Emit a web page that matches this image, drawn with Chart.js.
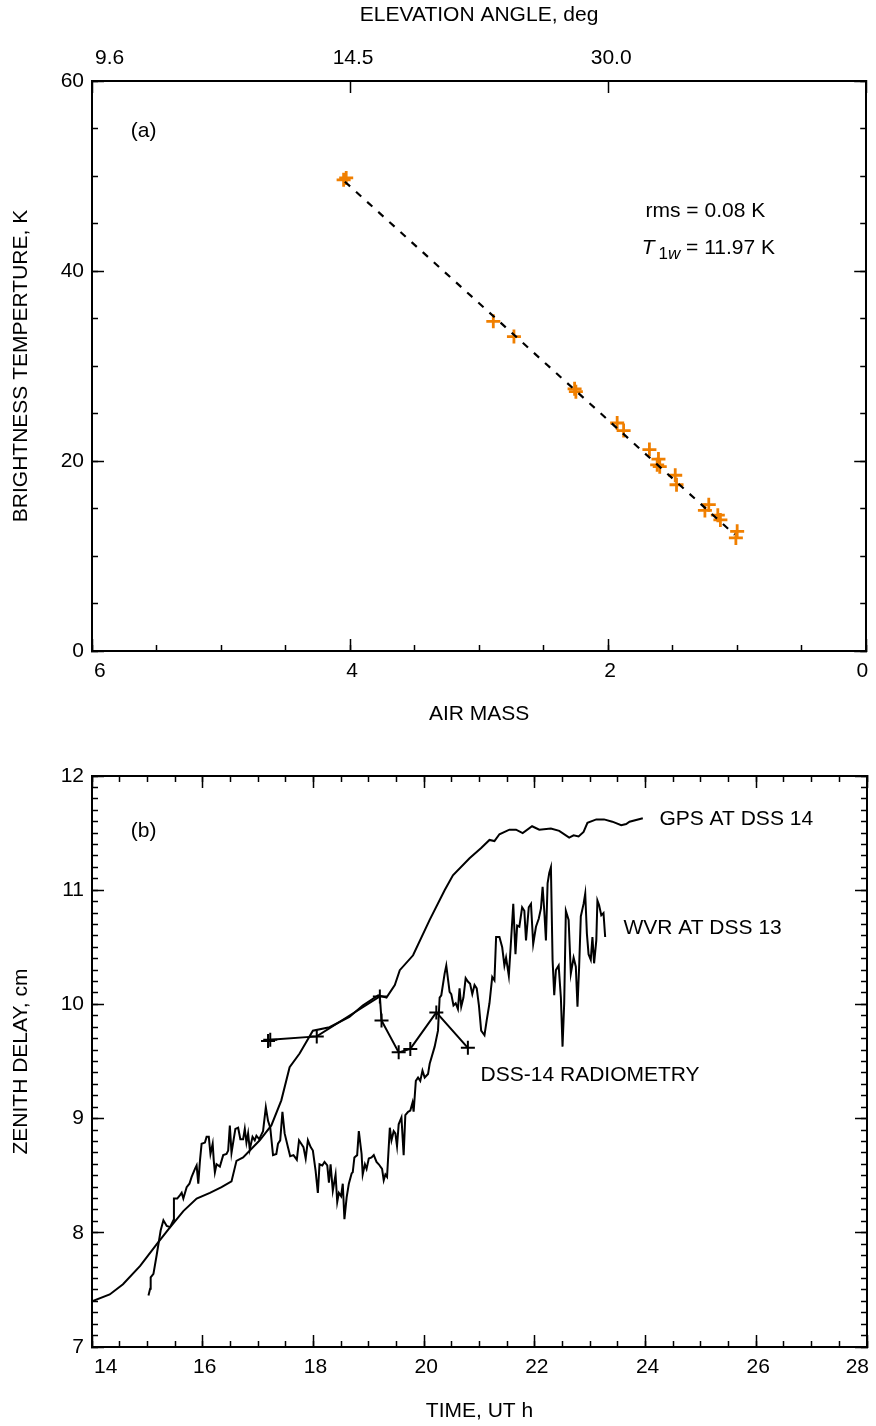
<!DOCTYPE html>
<html>
<head>
<meta charset="utf-8">
<script src="https://cdn.jsdelivr.net/npm/chart.js@4.4.0/dist/chart.umd.min.js"></script>
<style>
  body { margin: 0; background: #fff; }
  #wrap { position: relative; width: 876px; height: 1426px; }
  canvas { position: absolute; left: 0; }
</style>
</head>
<body>
<div id="wrap">
  <canvas id="airMassChart" width="876" height="735" style="top:0"></canvas>
  <canvas id="delayChart" width="876" height="691" style="top:735px"></canvas>
</div>
<script>
// panel (a): brightness temperature vs air mass
const airMass = [4.05, 4.03, 2.89, 2.73, 2.26, 2.25, 1.93, 1.88, 1.68, 1.61,
                 1.62, 1.60, 1.48, 1.47, 1.22, 1.25, 1.15, 1.13, 1.00, 1.01];
const brightnessTemp = [49.6, 49.8, 34.7, 33.1, 27.6, 27.3, 24.0, 23.2, 21.2, 20.2,
                        19.6, 19.4, 18.5, 17.5, 15.4, 14.8, 14.3, 13.8, 12.6, 11.9];
const fitAirMass = [4.04, 1.02];
const fitTemp = [49.4, 12.25];
const airMassTicks = [0, 2, 4, 6];
// top axis: elevation angle at given air mass (0 = right frame, no label)
const elevAirMass = [0, 2, 4, 6];
const elevLabels = ['', '30.0', '14.5', '9.6'];

// panel (b): zenith delay vs time
const gpsTime = [14.00, 14.32, 14.56, 14.87, 15.17, 15.38, 15.65, 15.89, 16.13, 16.34,
                 16.52, 16.61, 16.73, 17.03, 17.24, 17.42, 17.57, 17.75, 17.99, 18.29,
                 18.65, 18.89, 19.17, 19.32, 19.47, 19.56, 19.80, 20.10, 20.37, 20.52,
                 20.82, 21.03, 21.18, 21.27, 21.36, 21.54, 21.66, 21.78, 21.95, 22.08,
                 22.29, 22.44, 22.62, 22.70, 22.79, 22.88, 22.95, 23.11, 23.25, 23.40,
                 23.56, 23.65, 23.71, 23.95];
const gpsDelay = [7.40, 7.46, 7.55, 7.71, 7.90, 8.03, 8.19, 8.30, 8.35, 8.40,
                  8.45, 8.63, 8.66, 8.81, 8.94, 9.16, 9.45, 9.57, 9.77, 9.80,
                  9.89, 9.99, 10.08, 10.06, 10.17, 10.30, 10.43, 10.74, 11.00, 11.13,
                  11.28, 11.37, 11.44, 11.43, 11.49, 11.53, 11.53, 11.50, 11.56, 11.53,
                  11.54, 11.52, 11.46, 11.48, 11.47, 11.51, 11.59, 11.62, 11.62, 11.60,
                  11.57, 11.58, 11.60, 11.63];

const wvrTime = [15.02, 15.05, 15.06, 15.11, 15.17, 15.24, 15.29, 15.35, 15.41, 15.47,
                 15.48, 15.54, 15.59, 15.62, 15.65, 15.71, 15.76, 15.80, 15.86, 15.89,
                 15.92, 15.95, 15.98, 16.04, 16.07, 16.11, 16.14, 16.18, 16.20, 16.22,
                 16.25, 16.31, 16.37, 16.43, 16.46, 16.49, 16.52, 16.56, 16.59, 16.64,
                 16.68, 16.73, 16.76, 16.79, 16.82, 16.85, 16.90, 16.94, 16.97, 17.02,
                 17.04, 17.09, 17.14, 17.18, 17.22, 17.27, 17.33, 17.36, 17.40, 17.44,
                 17.48, 17.54, 17.58, 17.64, 17.70, 17.74, 17.78, 17.82, 17.86, 17.90,
                 17.95, 17.99, 18.04, 18.08, 18.11, 18.16, 18.20, 18.25, 18.28, 18.31,
                 18.35, 18.40, 18.43, 18.46, 18.50, 18.53, 18.56, 18.60, 18.64, 18.69,
                 18.71, 18.74, 18.79, 18.82, 18.87, 18.89, 18.93, 18.96, 19.00, 19.05,
                 19.09, 19.14, 19.18, 19.24, 19.27, 19.30, 19.33, 19.38, 19.41, 19.45,
                 19.48, 19.51, 19.54, 19.59, 19.63, 19.66, 19.71, 19.75, 19.79, 19.81,
                 19.85, 19.89, 19.93, 19.97, 20.01, 20.07, 20.10, 20.19, 20.25, 20.28,
                 20.31, 20.37, 20.40, 20.46, 20.49, 20.53, 20.57, 20.61, 20.64, 20.67,
                 20.71, 20.75, 20.79, 20.83, 20.87, 20.91, 20.95, 20.99, 21.03, 21.09,
                 21.13, 21.18, 21.23, 21.27, 21.30, 21.36, 21.41, 21.45, 21.48, 21.53,
                 21.57, 21.61, 21.65, 21.68, 21.72, 21.77, 21.81, 21.84, 21.89, 21.93,
                 21.97, 22.02, 22.07, 22.11, 22.14, 22.17, 22.20, 22.23, 22.26, 22.29,
                 22.32, 22.35, 22.38, 22.43, 22.47, 22.50, 22.53, 22.56, 22.61, 22.65,
                 22.70, 22.74, 22.77, 22.80, 22.83, 22.88, 22.91, 22.94, 22.97, 23.01,
                 23.04, 23.07, 23.11, 23.13, 23.16, 23.20, 23.24, 23.27];
const wvrDelay = [7.45, 7.51, 7.61, 7.64, 7.81, 8.02, 8.11, 8.06, 8.05, 8.11,
                  8.30, 8.30, 8.33, 8.35, 8.30, 8.40, 8.43, 8.49, 8.56, 8.59,
                  8.43, 8.63, 8.78, 8.79, 8.84, 8.84, 8.69, 8.78, 8.63, 8.53,
                  8.60, 8.58, 8.68, 8.69, 8.72, 8.94, 8.70, 8.82, 8.91, 8.92,
                  8.82, 8.82, 8.91, 8.79, 8.87, 8.73, 8.84, 8.81, 8.85, 8.82,
                  8.84, 8.89, 9.10, 8.98, 8.92, 8.68, 8.69, 8.78, 8.81, 9.06,
                  8.87, 8.75, 8.67, 8.68, 8.64, 8.81, 8.78, 8.75, 8.65, 8.81,
                  8.75, 8.72, 8.54, 8.35, 8.60, 8.59, 8.62, 8.59, 8.44, 8.60,
                  8.37, 8.51, 8.27, 8.35, 8.32, 8.43, 8.12, 8.31, 8.43, 8.52,
                  8.53, 8.66, 8.68, 8.89, 8.69, 8.51, 8.60, 8.56, 8.65, 8.66,
                  8.68, 8.62, 8.60, 8.56, 8.46, 8.51, 8.49, 8.92, 8.81, 8.89,
                  8.87, 8.76, 8.95, 9.01, 8.68, 9.03, 9.06, 9.07, 9.14, 9.06,
                  9.33, 9.36, 9.33, 9.42, 9.36, 9.39, 9.48, 9.63, 9.77, 10.06,
                  10.08, 10.27, 10.34, 10.11, 10.09, 9.99, 10.01, 9.96, 10.14, 9.98,
                  10.06, 10.23, 10.20, 10.18, 10.09, 10.17, 10.14, 9.99, 9.77, 9.73,
                  9.86, 10.01, 10.24, 10.21, 10.59, 10.59, 10.50, 10.34, 10.41, 10.25,
                  10.56, 10.88, 10.44, 10.69, 10.68, 10.85, 10.82, 10.56, 10.85, 10.88,
                  10.53, 10.68, 10.75, 10.84, 11.03, 10.82, 10.56, 11.06, 11.15, 11.20,
                  10.39, 10.08, 10.30, 10.34, 10.06, 9.63, 10.01, 10.82, 10.74, 10.27,
                  10.41, 10.33, 9.98, 10.33, 10.77, 10.88, 10.97, 10.62, 10.44, 10.39,
                  10.59, 10.36, 10.56, 10.91, 10.87, 10.78, 10.80, 10.59];

const radTime = [17.18, 17.22, 18.06, 19.20, 19.23, 19.54, 19.75, 20.22, 20.79];
const radDelay = [9.68, 9.69, 9.72, 10.07, 9.86, 9.58, 9.61, 9.93, 9.62];

const FONT = "'Liberation Sans', Arial, Helvetica, sans-serif";
const FS = 21;
const ORANGE = '#f07f00';
Chart.defaults.font.family = FONT;
Chart.defaults.font.size = FS;
Chart.defaults.color = '#000';

function points(xs, ys) {
  return xs.map((x, i) => ({ x: x, y: ys[i] }));
}

// one axis box; ticks point into the plot (negative tick length)
function axis(c) {
  const horizontal = c.position === 'top' || c.position === 'bottom';
  const ticks = {
    display: !!c.labels, autoSkip: false, maxRotation: 0,
    padding: c.pad || 0, color: '#000', font: { size: FS },
    labelOffset: c.labelOffset || 0
  };
  if (horizontal && c.labels) ticks.align = 'inner';
  if (c.step) ticks.stepSize = c.step;
  if (c.callback) ticks.callback = c.callback;
  const a = {
    type: 'linear',
    position: c.position,
    min: c.min, max: c.max,
    reverse: !!c.reverse,
    weight: c.weight || 0,
    border: { display: true, color: '#000', width: 2 },
    grid: { drawOnChartArea: false, drawTicks: true, tickLength: -c.tick, tickWidth: 1.5, tickColor: '#000' },
    ticks: ticks,
    title: c.title
      ? { display: true, text: c.title, color: '#000', font: { size: FS }, padding: c.titlePad }
      : { display: false },
    afterFit: function (s) {
      if (horizontal) s.height = c.size; else s.width = c.size;
      s.paddingLeft = s.paddingRight = s.paddingTop = s.paddingBottom = 0;
    }
  };
  if (c.tickValues) {
    a.afterBuildTicks = function (s) { s.ticks = c.tickValues.map(v => ({ value: v })); };
  }
  return a;
}

// text labels inside the plots, anchored in data units
function notesPlugin(items) {
  return {
    id: 'notes',
    afterDatasetsDraw(chart) {
      const ctx = chart.ctx;
      const sx = chart.scales.x, sy = chart.scales.y;
      ctx.save();
      ctx.fillStyle = '#000';
      ctx.textAlign = 'left';
      ctx.textBaseline = 'middle';
      items.forEach(n => {
        let x = sx.getPixelForValue(n.x);
        const y = sy.getPixelForValue(n.y);
        const parts = n.parts || [{ t: n.text }];
        parts.forEach(p => {
          ctx.font = (p.italic ? 'italic ' : '') + (p.size || FS) + 'px ' + FONT;
          ctx.fillText(p.t, x, y + (p.dy || 0));
          x += ctx.measureText(p.t).width + (p.gap || 0);
        });
      });
      ctx.restore();
    }
  };
}

const notesA = [
  { x: 5.70, y: 54.7, text: '(a)' },
  { x: 1.71, y: 46.3, text: 'rms = 0.08 K' },
  { x: 1.74, y: 42.4, parts: [
    { t: 'T', italic: true, gap: 4 },
    { t: '1', size: 17, dy: 6 },
    { t: 'w', size: 17, dy: 6, italic: true },
    { t: ' = 11.97 K' }
  ] }
];
const notesB = [
  { x: 14.70, y: 11.52, text: '(b)' },
  { x: 24.25, y: 11.62, text: 'GPS AT DSS 14' },
  { x: 23.60, y: 10.67, text: 'WVR AT DSS 13' },
  { x: 21.02, y: 9.38, text: 'DSS-14 RADIOMETRY' }
];

const chartA = new Chart(document.getElementById('airMassChart'), {
  type: 'scatter',
  data: {
    datasets: [
      {
        label: 'fit', data: points(fitAirMass, fitTemp), showLine: true,
        borderColor: '#000', borderWidth: 2.2, borderDash: [7, 8], pointRadius: 0, order: 0
      },
      {
        label: 'Tb', data: points(airMass, brightnessTemp),
        pointStyle: 'cross', pointRadius: 7, borderWidth: 2.8,
        borderColor: ORANGE, backgroundColor: ORANGE, order: 1
      }
    ]
  },
  options: {
    responsive: false, animation: false,
    layout: { padding: { left: 0, right: 7, top: 0, bottom: 0 } },
    plugins: { legend: { display: false }, tooltip: { enabled: false } },
    scales: {
      x: axis({ position: 'bottom', min: 0, max: 6, reverse: true, tick: 12, size: 84, weight: 1,
                labels: true, pad: 20, labelOffset: 2, tickValues: airMassTicks,
                title: 'AIR MASS', titlePad: { top: 0, bottom: 8 } }),
      xMinor: axis({ position: 'bottom', min: 0, max: 6, reverse: true, step: 0.5, tick: 6, size: 0 }),
      elev: axis({ position: 'top', min: 0, max: 6, reverse: true, tick: 12, size: 81, weight: 1,
                   labels: true, pad: 22, labelOffset: 3, tickValues: elevAirMass, callback: (v, i) => elevLabels[i],
                   title: 'ELEVATION ANGLE, deg', titlePad: { top: 3, bottom: 0 } }),
      y: axis({ position: 'left', min: 0, max: 60, step: 20, tick: 12, size: 92, weight: 1,
                labels: true, pad: 20, title: 'BRIGHTNESS TEMPERTURE, K', titlePad: { top: 9, bottom: 0 } }),
      yMinor: axis({ position: 'left', min: 0, max: 60, step: 5, tick: 6, size: 0 }),
      yRight: axis({ position: 'right', min: 0, max: 60, step: 20, tick: 12, size: 0, weight: 1 }),
      yRightMinor: axis({ position: 'right', min: 0, max: 60, step: 5, tick: 6, size: 0 })
    }
  },
  plugins: [notesPlugin(notesA)]
});

const chartB = new Chart(document.getElementById('delayChart'), {
  type: 'scatter',
  data: {
    datasets: [
      {
        label: 'GPS AT DSS 14', data: points(gpsTime, gpsDelay), showLine: true,
        borderColor: '#000', borderWidth: 2, pointRadius: 0
      },
      {
        label: 'WVR AT DSS 13', data: points(wvrTime, wvrDelay), showLine: true,
        borderColor: '#000', borderWidth: 2, pointRadius: 0
      },
      {
        label: 'DSS-14 RADIOMETRY', data: points(radTime, radDelay), showLine: true,
        borderColor: '#000', borderWidth: 2, pointStyle: 'cross', pointRadius: 7,
        pointBorderWidth: 2, pointBorderColor: '#000'
      }
    ]
  },
  options: {
    responsive: false, animation: false,
    layout: { padding: { left: 0, right: 7, top: 0, bottom: 0 } },
    plugins: { legend: { display: false }, tooltip: { enabled: false } },
    scales: {
      x: axis({ position: 'bottom', min: 14, max: 28, step: 2, tick: 12, size: 79, weight: 1,
                labels: true, pad: 20, labelOffset: 2, title: 'TIME, UT h', titlePad: { top: 0, bottom: 2 } }),
      xMinor: axis({ position: 'bottom', min: 14, max: 28, step: 0.5, tick: 6, size: 0 }),
      xTop: axis({ position: 'top', min: 14, max: 28, step: 2, tick: 12, size: 41, weight: 1 }),
      xTopMinor: axis({ position: 'top', min: 14, max: 28, step: 0.5, tick: 6, size: 0 }),
      y: axis({ position: 'left', min: 7, max: 12, step: 1, tick: 12, size: 92, weight: 1,
                labels: true, pad: 20, title: 'ZENITH DELAY, cm', titlePad: { top: 9, bottom: 0 } }),
      yMinor: axis({ position: 'left', min: 7, max: 12, step: 0.1, tick: 6, size: 0 }),
      yRight: axis({ position: 'right', min: 7, max: 12, step: 1, tick: 12, size: 0, weight: 1 }),
      yRightMinor: axis({ position: 'right', min: 7, max: 12, step: 0.1, tick: 6, size: 0 })
    }
  },
  plugins: [notesPlugin(notesB)]
});
</script>
</body>
</html>
